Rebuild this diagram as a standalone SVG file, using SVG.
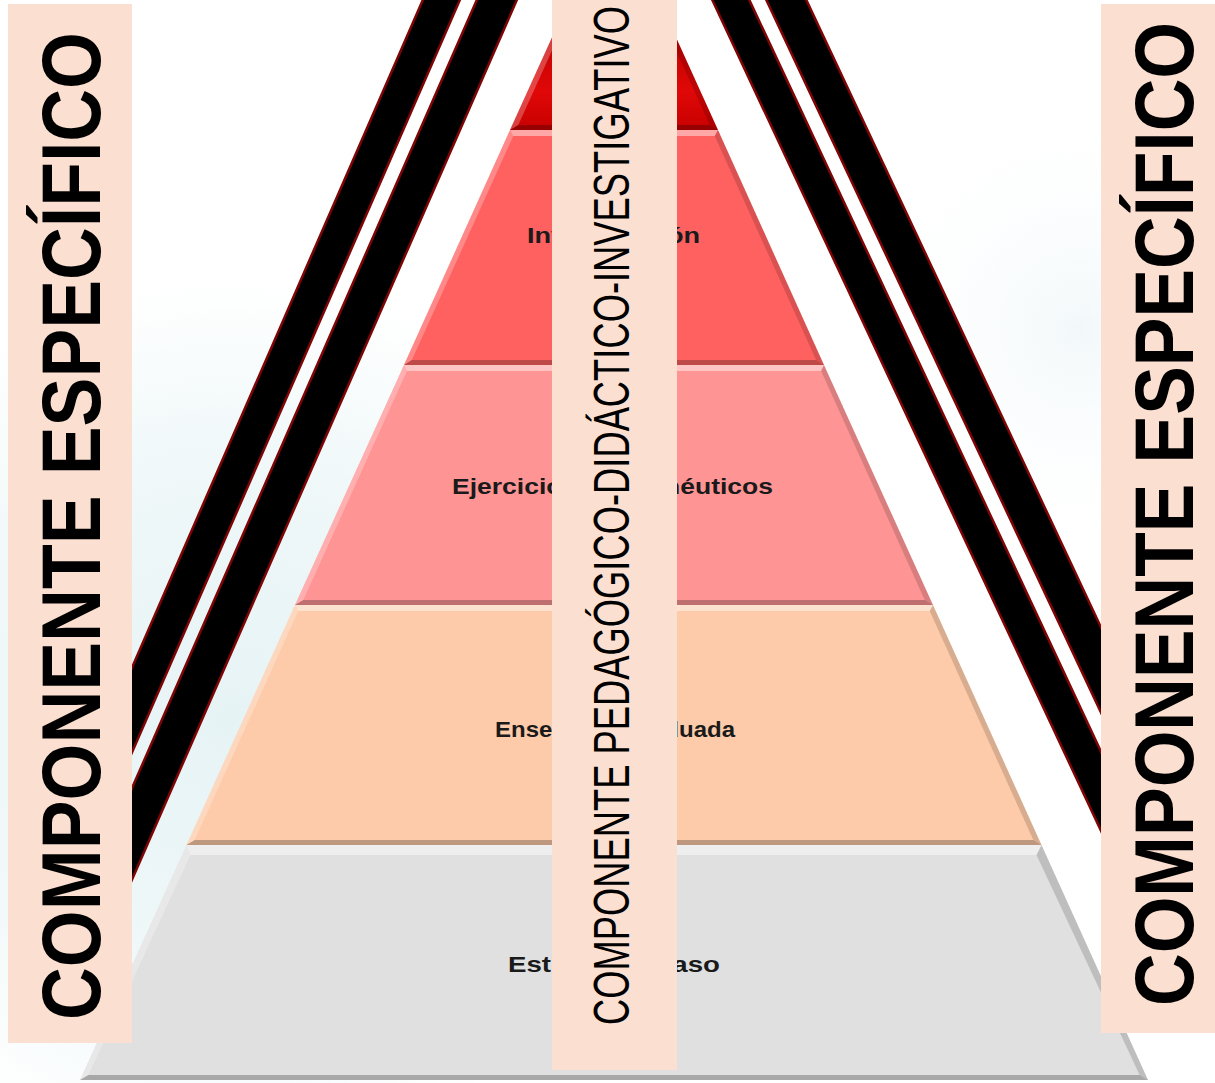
<svg xmlns="http://www.w3.org/2000/svg" width="1215" height="1083" viewBox="0 0 1215 1083">
<defs>
<radialGradient id="glowL" cx="230" cy="720" r="440" gradientUnits="userSpaceOnUse">
<stop offset="0" stop-color="#E6F3F5"/>
<stop offset="0.6" stop-color="#F0F8F9"/>
<stop offset="1" stop-color="#FFFFFF"/>
</radialGradient>
<radialGradient id="glowR" cx="1080" cy="330" r="230" gradientUnits="userSpaceOnUse">
<stop offset="0" stop-color="#F2F8FA"/>
<stop offset="1" stop-color="#FFFFFF" stop-opacity="0"/>
</radialGradient>
<linearGradient id="red1" x1="0" y1="0" x2="0" y2="1">
<stop offset="0" stop-color="#C00000"/>
<stop offset="0.6" stop-color="#E00808"/>
<stop offset="1" stop-color="#C80000"/>
</linearGradient>
<clipPath id="clipL"><rect x="132" y="0" width="560" height="1083"/></clipPath>
<clipPath id="clipR"><rect x="530" y="0" width="571" height="1083"/></clipPath>
</defs>
<style>
.band{fill:#000;stroke:#7E0505;stroke-width:2.5}
.hi{fill:#fff;fill-opacity:0.45}
.lhi{fill:#fff;fill-opacity:0.25}
.sh{fill:#000;fill-opacity:0.15}
.bsh{fill:#000;fill-opacity:0.25}
.panel{fill:#FBDFD0}
.lbl{font-family:"Liberation Sans",Arial,sans-serif;font-weight:bold;font-size:22px;fill:#1a1a1a;text-anchor:middle}
.big{font-family:"Liberation Sans",Arial,sans-serif;font-weight:bold;font-size:73px;fill:#000}
.mid{font-family:"Liberation Sans",Arial,sans-serif;font-size:36.4px;fill:#000}
</style>

<rect width="1215" height="1083" fill="#fff"/>
<rect x="0" y="0" width="700" height="1083" fill="url(#glowL)"/>
<rect x="850" y="100" width="365" height="500" fill="url(#glowR)"/>

<g id="connectors">
<g clip-path="url(#clipL)">
<polygon class="band" points="425,-5 462,-5 -12,1083 -49,1083"/>
<polygon class="band" points="479,-5 519,-5 43,1083 3,1083"/>
</g>
<g clip-path="url(#clipR)">
<polygon class="band" points="710,-5 747,-5 1256,1083 1219,1083"/>
<polygon class="band" points="764,-5 804,-5 1315,1083 1275,1083"/>
</g>
</g>

<g id="level1">
<polygon points="554,33 674,33 718,130 510,130" fill="url(#red1)"/>
<polygon class="lhi" points="554,33 557.2,39 518.3,125 510,130"/>
<polygon class="sh" points="674,33 718,130 709.7,125 670.8,39"/>
<polygon class="bsh" points="518.3,125 709.7,125 718,130 510,130"/>
</g>

<g id="level2">
<polygon points="510,130 718,130 824,365 404,365" fill="#FF6060"/>
<polygon class="hi" points="510,130 718,130 714.7,136 513.3,136"/>
<polygon class="lhi" points="510,130 513.3,136 411.9,360 404,365"/>
<polygon class="sh" points="718,130 824,365 816.1,360 714.7,136"/>
<polygon class="bsh" points="411.9,360 816.1,360 824,365 404,365"/>
<text class="lbl" x="613.5" y="243" textLength="173" lengthAdjust="spacingAndGlyphs">Investigación</text>
</g>

<g id="level3">
<polygon points="404,365 824,365 933,605 295,605" fill="#FF9494"/>
<polygon class="hi" points="404,365 824,365 821.1,371 406.9,371"/>
<polygon class="lhi" points="404,365 406.9,371 303.3,600 295,605"/>
<polygon class="sh" points="824,365 933,605 924.7,600 821.1,371"/>
<polygon class="bsh" points="303.3,600 924.7,600 933,605 295,605"/>
<text class="lbl" x="612.5" y="494" textLength="321" lengthAdjust="spacingAndGlyphs">Ejercicios hermenéuticos</text>
</g>

<g id="level4">
<polygon points="295,605 933,605 1041.5,845 186.5,845" fill="#FDCBA9"/>
<polygon class="hi" points="295,605 933,605 929.7,611 298.3,611"/>
<polygon class="lhi" points="295,605 298.3,611 194.7,840 186.5,845"/>
<polygon class="sh" points="933,605 1041.5,845 1033.3,840 929.7,611"/>
<polygon class="bsh" points="194.7,840 1033.3,840 1041.5,845 186.5,845"/>
<text class="lbl" x="615" y="737" textLength="240" lengthAdjust="spacingAndGlyphs">Enseñanza graduada</text>
</g>

<g id="level5">
<polygon points="186.5,845 1041.5,845 1148,1080 80,1080" fill="#E0E0E0"/>
<polygon class="hi" points="186.5,845 1041.5,845 1036.5,855 190.5,855" fill-opacity="0.85"/>
<polygon class="lhi" points="186.5,845 190.5,855 88.4,1075 80,1080" fill-opacity="0.55"/>
<polygon class="sh" points="1041.5,845 1148,1080 1139.6,1075 1036.5,855" fill-opacity="0.2"/>
<polygon class="bsh" points="88.4,1075 1139.6,1075 1148,1080 80,1080"/>
<text class="lbl" x="614" y="972" textLength="212" lengthAdjust="spacingAndGlyphs">Estudio de caso</text>
</g>

<g id="panel-left">
<rect class="panel" x="8" y="4" width="124" height="1039"/>
<text class="big" transform="translate(100,1020) rotate(-90) scale(1,1.143)" textLength="988" lengthAdjust="spacingAndGlyphs">COMPONENTE ESPECÍFICO</text>
</g>

<g id="panel-center">
<rect class="panel" x="552" y="0" width="125" height="1070"/>
<text class="mid" transform="translate(629,1025) rotate(-90) scale(1,1.38)" textLength="1019" lengthAdjust="spacingAndGlyphs">COMPONENTE PEDAGÓGICO-DIDÁCTICO-INVESTIGATIVO</text>
</g>

<g id="panel-right">
<rect class="panel" x="1101" y="4" width="114" height="1029"/>
<text class="big" transform="translate(1193,1006) rotate(-90) scale(1,1.15)" textLength="984" lengthAdjust="spacingAndGlyphs">COMPONENTE ESPECÍFICO</text>
</g>
</svg>
